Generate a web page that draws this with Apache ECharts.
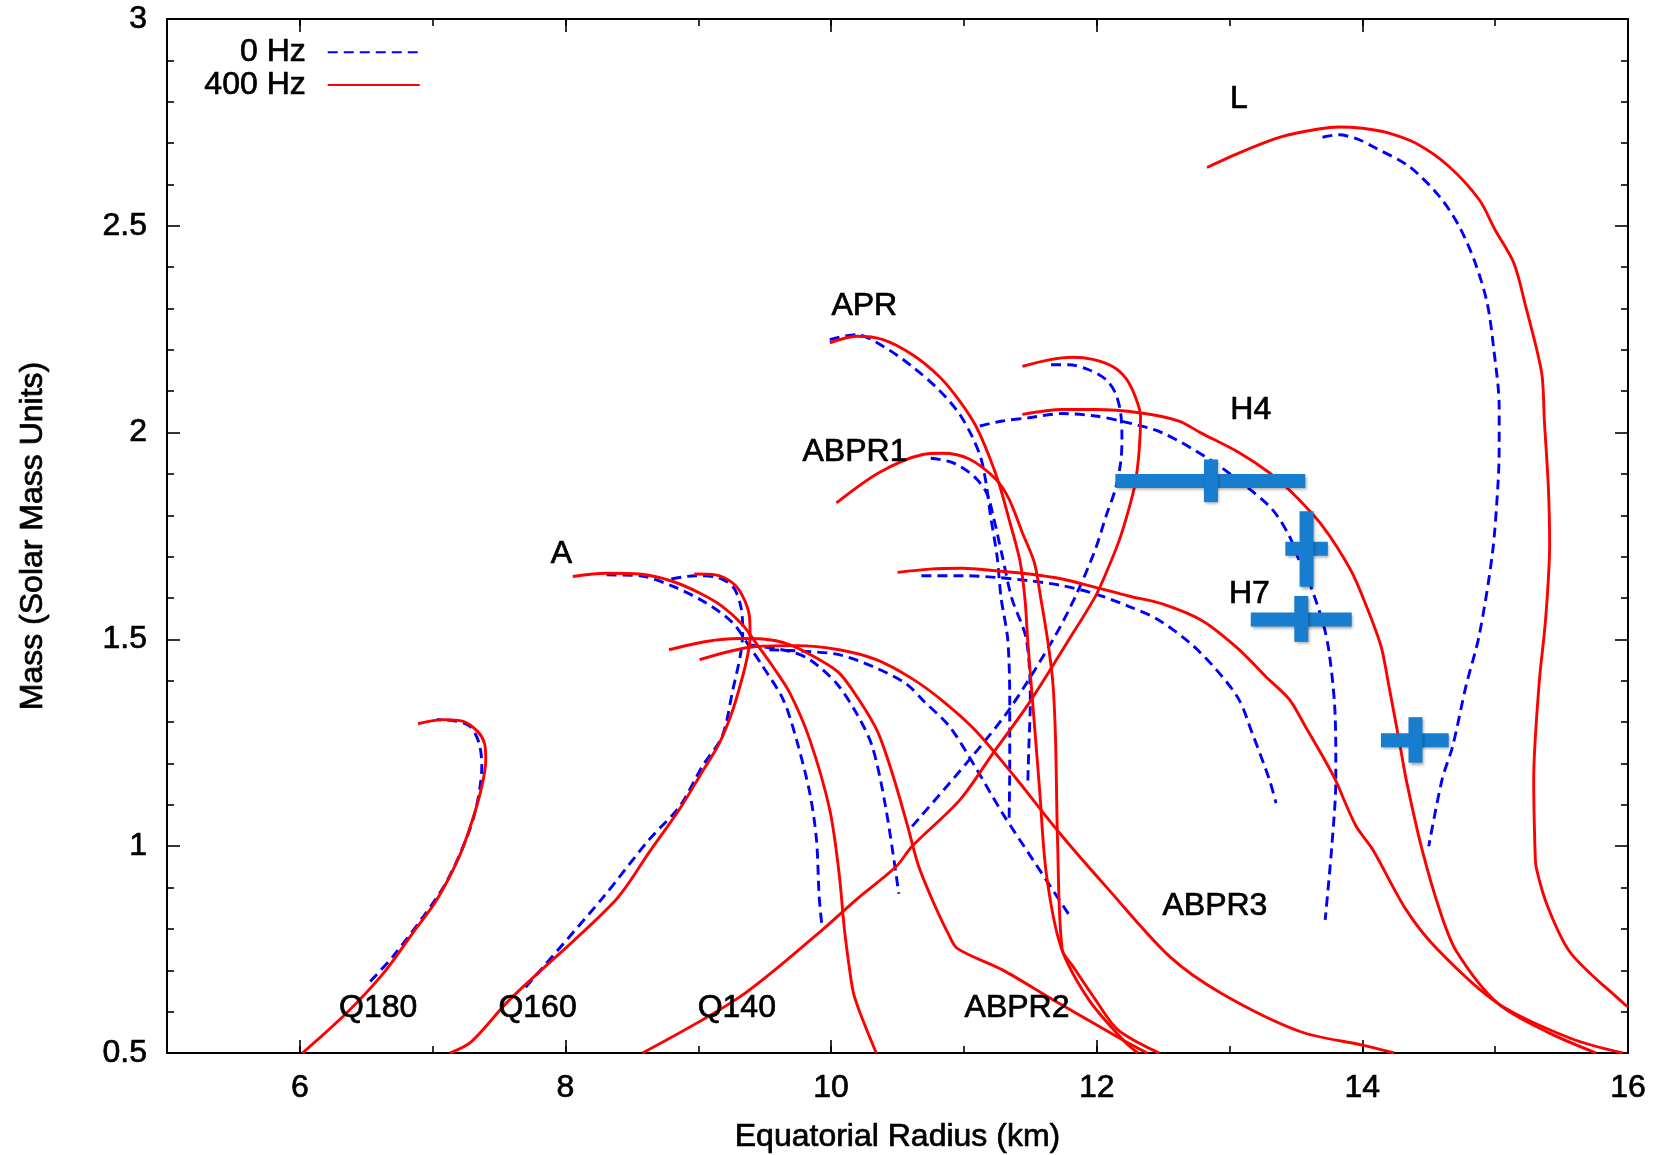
<!DOCTYPE html>
<html>
<head>
<meta charset="utf-8">
<title>Mass vs Equatorial Radius</title>
<script src="https://cdn.jsdelivr.net/npm/echarts@6/dist/echarts.min.js"></script>
<style>
  html, body { margin: 0; padding: 0; background: #fff; }
  #main { width: 1670px; height: 1155px; }
</style>
</head>
<body>
<div id="main"></div>
<script>
// axis ticks
var xMajorTicks = [6, 8, 10, 12, 14, 16];

// [radius km, mass Msun] -- 0 Hz (static) and 400 Hz (rotating) curves
var q180Static = [[6.53,0.673],[6.7,0.733],[6.93,0.83],[7.1,0.911],[7.25,1.015],[7.33,1.096],[7.37,1.193],[7.35,1.249],[7.28,1.29],[7.15,1.304],[7.03,1.306]];
var q180Rot = [[6.02,0.5],[6.35,0.596],[6.63,0.693],[6.85,0.79],[7.03,0.87],[7.2,0.975],[7.3,1.064],[7.37,1.144],[7.4,1.209],[7.39,1.249],[7.34,1.277],[7.23,1.302],[7.08,1.306],[6.89,1.296]];

var q160Static = [[7.7,0.659],[8.28,0.875],[8.63,1.016],[8.86,1.096],[9.03,1.193],[9.18,1.266],[9.26,1.378],[9.32,1.467],[9.335,1.523],[9.32,1.58],[9.26,1.628],[9.13,1.651],[8.98,1.654],[8.76,1.644]];
var q160Rot = [[7.13,0.5],[7.29,0.527],[7.58,0.629],[8.37,0.867],[8.64,0.99],[8.86,1.09],[9.03,1.18],[9.16,1.25],[9.25,1.32],[9.32,1.394],[9.37,1.459],[9.39,1.507],[9.385,1.556],[9.335,1.604],[9.26,1.636],[9.13,1.656],[8.97,1.658]];

var q140Static = [[10.61,1.048],[11.02,1.201],[11.34,1.33],[11.67,1.499],[11.84,1.604],[11.99,1.718],[12.07,1.798],[12.14,1.863],[12.18,1.927],[12.19,1.983],[12.18,2.048],[12.14,2.096],[12.07,2.128],[11.94,2.152],[11.79,2.164],[11.64,2.164]];
var q140Rot = [[8.58,0.5],[9.31,0.635],[9.91,0.791],[10.19,0.871],[10.49,0.951],[10.61,1.0],[10.97,1.112],[11.22,1.225],[11.49,1.346],[11.79,1.499],[11.99,1.604],[12.07,1.66],[12.17,1.74],[12.24,1.813],[12.29,1.878],[12.32,1.958],[12.33,2.039],[12.29,2.087],[12.22,2.131],[12.12,2.16],[11.97,2.177],[11.82,2.182],[11.64,2.176],[11.44,2.16]];

var aStatic = [[8.31,1.656],[8.56,1.654],[8.81,1.628],[9.06,1.588],[9.26,1.54],[9.385,1.483],[9.485,1.435],[9.64,1.354],[9.74,1.257],[9.84,1.128],[9.89,1.016],[9.91,0.879],[9.93,0.81]];
var aRot = [[8.055,1.652],[8.31,1.66],[8.56,1.658],[8.81,1.64],[9.01,1.612],[9.18,1.58],[9.335,1.535],[9.435,1.491],[9.56,1.435],[9.69,1.37],[9.84,1.257],[9.99,1.088],[10.06,0.935],[10.1,0.8],[10.14,0.7],[10.17,0.643],[10.23,0.587],[10.34,0.5]];

var aprStatic = [[9.99,2.225],[10.19,2.237],[10.39,2.209],[10.61,2.16],[10.81,2.104],[10.96,2.048],[11.06,1.992],[11.13,1.936],[11.17,1.871],[11.2,1.8],[11.25,1.7],[11.28,1.6],[11.33,1.5],[11.345,1.35],[11.345,1.2],[11.34,1.056]];
var aprRot = [[9.99,2.217],[10.19,2.233],[10.39,2.225],[10.61,2.189],[10.81,2.137],[10.96,2.08],[11.09,2.016],[11.19,1.943],[11.27,1.871],[11.34,1.79],[11.42,1.693],[11.46,1.597],[11.48,1.499],[11.52,1.338],[11.57,1.136],[11.62,0.935],[11.73,0.757],[11.94,0.629],[12.2,0.531],[12.31,0.5]];

var abpr1Static = [[10.75,1.938],[10.91,1.928],[11.07,1.896],[11.17,1.855],[11.22,1.799],[11.29,1.7],[11.36,1.6],[11.47,1.5],[11.5,1.35],[11.49,1.25],[11.48,1.144]];
var abpr1Rot = [[10.04,1.83],[10.36,1.903],[10.69,1.947],[10.84,1.95],[11.04,1.936],[11.24,1.887],[11.34,1.839],[11.44,1.758],[11.53,1.686],[11.58,1.597],[11.63,1.499],[11.67,1.394],[11.69,1.257],[11.705,1.015],[11.74,0.75],[11.82,0.71],[11.99,0.629],[12.16,0.556],[12.47,0.5]];

var abpr2Static = [[9.38,1.487],[9.69,1.471],[9.84,1.451],[10.04,1.394],[10.19,1.322],[10.31,1.241],[10.41,1.096],[10.51,0.885]];
var abpr2Rot = [[8.78,1.475],[9.06,1.495],[9.31,1.502],[9.485,1.501],[9.69,1.487],[9.89,1.455],[10.06,1.419],[10.21,1.354],[10.35,1.277],[10.46,1.177],[10.575,1.05],[10.66,0.951],[10.79,0.85],[10.88,0.79],[10.95,0.753],[11.29,0.701],[11.67,0.629],[12.2,0.531],[12.38,0.5]];

var abpr3Static = [[9.535,1.475],[9.81,1.471],[10.06,1.463],[10.31,1.435],[10.56,1.394],[10.7,1.35],[10.89,1.29],[11.07,1.2],[11.29,1.08],[11.52,0.967],[11.8,0.83]];
var abpr3Rot = [[9.01,1.451],[9.435,1.483],[9.74,1.485],[10.06,1.475],[10.34,1.451],[10.6,1.407],[10.83,1.354],[11.08,1.282],[11.39,1.165],[11.72,1.032],[12.09,0.895],[12.55,0.733],[12.94,0.644],[13.53,0.552],[14.0,0.519],[14.24,0.5]];

var h4Static = [[11.12,2.016],[11.29,2.028],[11.49,2.036],[11.74,2.046],[11.99,2.04],[12.18,2.028],[12.49,2.0],[12.85,1.935],[13.12,1.871],[13.32,1.815],[13.45,1.75],[13.52,1.694],[13.62,1.621],[13.71,1.532],[13.75,1.468],[13.79,1.347],[13.8,1.226],[13.8,1.161],[13.77,1.0],[13.72,0.822]];
var h4Rot = [[11.44,2.044],[11.74,2.056],[11.99,2.056],[12.32,2.048],[12.62,2.028],[12.78,2.0],[13.07,1.952],[13.3,1.903],[13.47,1.855],[13.7,1.774],[13.91,1.669],[14.02,1.589],[14.14,1.484],[14.2,1.387],[14.28,1.25],[14.33,1.161],[14.45,0.991],[14.59,0.838],[14.71,0.745],[15.02,0.62],[15.41,0.548],[15.76,0.5]];

var h7Static = [[10.68,1.654],[10.99,1.654],[11.24,1.65],[11.49,1.642],[11.74,1.63],[11.99,1.61],[12.24,1.58],[12.45,1.55],[12.7,1.492],[12.9,1.427],[13.07,1.355],[13.17,1.274],[13.3,1.161],[13.35,1.104]];
var h7Rot = [[10.5,1.662],[10.74,1.67],[10.99,1.672],[11.24,1.666],[11.49,1.658],[11.74,1.646],[11.99,1.626],[12.24,1.605],[12.5,1.585],[12.8,1.544],[13.07,1.476],[13.27,1.411],[13.45,1.355],[13.57,1.29],[13.7,1.218],[13.79,1.165],[13.95,1.05],[14.08,0.991],[14.33,0.846],[14.57,0.749],[15.02,0.62],[15.57,0.535],[15.96,0.5]];

var lStatic = [[13.7,2.714],[13.82,2.72],[13.96,2.71],[14.1,2.688],[14.35,2.644],[14.58,2.571],[14.73,2.498],[14.85,2.41],[14.94,2.313],[14.99,2.2],[15.03,2.063],[15.03,1.96],[15.02,1.87],[14.98,1.71],[14.88,1.51],[14.78,1.387],[14.68,1.242],[14.6,1.161],[14.5,1.0]];
var lRot = [[12.83,2.641],[13.1,2.68],[13.4,2.716],[13.67,2.734],[13.82,2.739],[14.0,2.736],[14.18,2.726],[14.4,2.7],[14.65,2.644],[14.88,2.563],[15.0,2.49],[15.14,2.41],[15.23,2.305],[15.35,2.144],[15.37,2.03],[15.4,1.87],[15.41,1.73],[15.38,1.55],[15.33,1.39],[15.29,1.16],[15.3,0.99],[15.31,0.947],[15.4,0.85],[15.57,0.741],[15.98,0.616],[16.0,0.612]];

// measurements: [radius, mass, radius lo, radius hi, mass lo, mass hi]
var measurements = [
  [12.86, 1.883, 12.14, 13.57, 1.832, 1.935],
  [13.58, 1.719, 13.42, 13.74, 1.627, 1.810],
  [13.54, 1.548, 13.16, 13.92, 1.494, 1.605],
  [14.40, 1.256, 14.14, 14.65, 1.202, 1.312]
];

// curve labels: [radius, mass, text]
var curveLabels = [
  [13.07, 2.805, 'L'], [10.25, 2.305, 'APR'], [13.16, 2.055, 'H4'], [10.18, 1.952, 'ABPR1'],
  [7.97, 1.707, 'A'], [13.15, 1.61, 'H7'], [12.89, 0.855, 'ABPR3'],
  [6.59, 0.608, 'Q180'], [7.79, 0.608, 'Q160'], [9.29, 0.608, 'Q140'], [11.4, 0.608, 'ABPR2']
];

var staticCurves = [q180Static, q160Static, q140Static, aStatic, aprStatic, abpr1Static, abpr2Static, abpr3Static, h4Static, h7Static, lStatic];
var rotCurves = [q180Rot, q160Rot, q140Rot, aRot, aprRot, abpr1Rot, abpr2Rot, abpr3Rot, h4Rot, h7Rot, lRot];

var FONT = 'Liberation Sans, Arial, Helvetica, sans-serif';
var TEXT = { fontSize: 32, fontFamily: FONT, color: '#000', textBorderColor: '#000', textBorderWidth: 0.7 };

function makeCurve(data, dashed) {
  var col = dashed ? '#0000ff' : '#ff0000';
  return {
    type: 'line',
    name: dashed ? '0 Hz' : '400 Hz',
    data: data,
    color: col,
    symbol: 'none',
    showSymbol: false,
    smooth: 0.3,
    silent: true,
    z: dashed ? 2 : 3,
    itemStyle: { color: col },
    lineStyle: { color: col, width: 2.9, type: dashed ? [10, 6] : 'solid' }
  };
}

function makeXAxis(position, longTicks, showLabels) {
  return {
    type: 'value', position: position, min: 5, max: 16, interval: 1,
    splitLine: { show: false },
    axisLine: { show: !longTicks, onZero: false, lineStyle: { color: '#000', width: 2 } },
    axisTick: longTicks
      ? { show: true, inside: true, length: 13, customValues: xMajorTicks, lineStyle: { color: '#000', width: 1.6 } }
      : { show: true, inside: true, length: 7, lineStyle: { color: '#000', width: 1.6 } },
    axisLabel: showLabels
      ? Object.assign({ show: true, margin: 19,
          formatter: function (v) { return v % 2 === 0 ? String(v) : ''; } }, TEXT)
      : { show: false },
    name: showLabels ? 'Equatorial Radius (km)' : '',
    nameLocation: 'middle', nameGap: 68,
    nameTextStyle: TEXT
  };
}

function makeYAxis(position, showLabels) {
  return {
    type: 'value', position: position, min: 0.5, max: 3, interval: 0.5,
    splitLine: { show: false },
    axisLine: { show: true, onZero: false, lineStyle: { color: '#000', width: 2 } },
    axisTick: { show: true, inside: true, length: 13, lineStyle: { color: '#000', width: 1.6 } },
    minorTick: { show: true, splitNumber: 5, length: 7, lineStyle: { color: '#000', width: 1.6 } },
    axisLabel: showLabels ? Object.assign({ show: true, margin: 20 }, TEXT) : { show: false },
    name: showLabels ? 'Mass (Solar Mass Units)' : '',
    nameLocation: 'middle', nameGap: 118,
    nameTextStyle: TEXT
  };
}

var series = [];
staticCurves.forEach(function (c) { series.push(makeCurve(c, true)); });
rotCurves.forEach(function (c) { series.push(makeCurve(c, false)); });

series.push({
  type: 'custom',
  name: 'measurements',
  data: measurements,
  encode: { x: [0, 2, 3], y: [1, 4, 5] },
  z: 5,
  silent: true,
  renderItem: function (params, api) {
    var c = api.coord([api.value(0), api.value(1)]);
    var xl = api.coord([api.value(2), api.value(1)]);
    var xh = api.coord([api.value(3), api.value(1)]);
    var yl = api.coord([api.value(0), api.value(4)]);
    var yh = api.coord([api.value(0), api.value(5)]);
    var t = 14;
    var style = { fill: '#177ecf', shadowBlur: 3, shadowOffsetX: 1.5, shadowOffsetY: 2, shadowColor: 'rgba(0,0,0,0.35)' };
    return {
      type: 'group',
      children: [
        { type: 'rect', shape: { x: xl[0], y: c[1] - t / 2, width: xh[0] - xl[0], height: t }, style: style },
        { type: 'rect', shape: { x: c[0] - t / 2, y: yh[1], width: t, height: yl[1] - yh[1] }, style: style }
      ]
    };
  }
});

series.push({
  type: 'scatter',
  name: 'labels',
  data: curveLabels,
  symbolSize: 0,
  silent: true,
  z: 6,
  itemStyle: { opacity: 1 },
  label: Object.assign({
    show: true, position: 'inside', opacity: 1,
    formatter: function (p) { return p.value[2]; }
  }, TEXT)
});

var chart = echarts.init(document.getElementById('main'), null, { renderer: 'canvas' });
chart.setOption({
  animation: false,
  backgroundColor: '#fff',
  grid: { left: 167, right: 42, top: 19, bottom: 102, containLabel: false, outerBoundsMode: 'none' },
  legend: {
    data: ['0 Hz', '400 Hz'],
    orient: 'vertical',
    align: 'right',
    left: 199, top: 31,
    itemWidth: 92, itemHeight: 32, itemGap: 0,
    selectedMode: false,
    itemStyle: { opacity: 0 },
    textStyle: Object.assign({ lineHeight: 32, padding: [0, 17, 0, 0] }, TEXT)
  },
  xAxis: [
    makeXAxis('bottom', false, true),
    makeXAxis('bottom', true, false),
    makeXAxis('top', false, false),
    makeXAxis('top', true, false)
  ],
  yAxis: [
    makeYAxis('left', true),
    makeYAxis('right', false)
  ],
  series: series
});
</script>
</body>
</html>
